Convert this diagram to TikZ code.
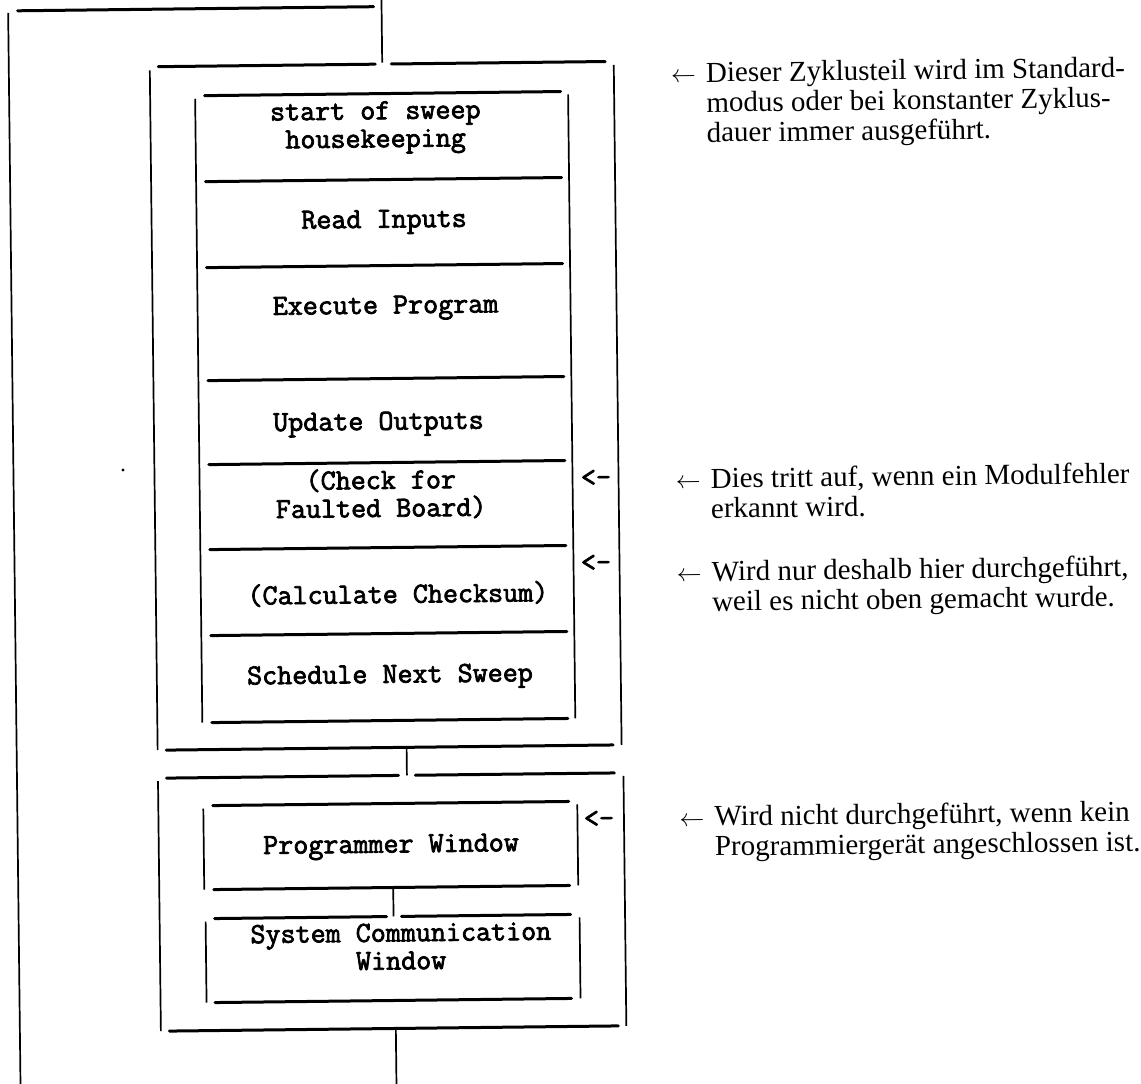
\documentclass[tikz,border=0pt]{standalone}
\usepackage{fontspec}
\setmainfont{Liberation Serif}
\setmonofont{Latin Modern Mono}[FakeBold=2.5]
\begin{document}
\begin{tikzpicture}[x=1pt,y=-1pt,
  hbar/.style={line width=3pt,line cap=round},
  vbar/.style={line width=1.7pt},
  cell/.style={inner sep=0pt,align=center,font={\ttfamily\fontsize{29.2}{28}\selectfont}},
  flag/.style={inner sep=0pt,font={\ttfamily\fontsize{29.2}{28}\selectfont}},
  note/.style={inner sep=0pt,anchor=north west,align=left,font={\fontsize{29}{30}\selectfont}},
  pointer/.style={inner sep=0pt,anchor=base west,font={\fontsize{29}{30}\selectfont}}]
\fill[white] (0,0) rectangle (1141,1084);
\useasboundingbox (0,0) rectangle (1141,1084);
\begin{scope}[rotate around={0.66:(0,0)},transform shape]

% return path from the end of the cycle back to its start
\coordinate (loopbot) at (8,1100);
\coordinate (looptop) at (8,13);
\coordinate (loopcorner) at (17.5,11);
\coordinate (loopend) at (373.5,11);
\draw[vbar] (looptop) -- (loopbot);
\draw[hbar] (loopcorner) -- (loopend);

% entry into the sweep
\coordinate (entry) at (381.5,-8);
\coordinate (sweepin) at (381.5,67);
\draw[vbar] (entry) -- (sweepin);

% frame of the sweep
\draw[hbar] (157.5,68.5) -- (374.5,68.5);
\draw[hbar] (390.5,68.5) -- (604.5,68.5);
\draw[vbar] (149,72) -- (149,752);
\draw[vbar] (613,72) -- (613,752);
\draw[hbar] (157.5,752) -- (604.5,752);

% stacked steps of the sweep
\draw[vbar] (194,101) -- (194,725);
\draw[vbar] (567,101) -- (567,725);
\foreach \yy in {98,184,270,383,467,552,638,725}
  \draw[hbar] (203.5,\yy) -- (559.5,\yy);

\node[cell] (sos) at (374,132) {start of sweep\\housekeeping};
\node[cell] (ri)  at (381.5,226.5) {Read Inputs};
\node[cell] (ep)  at (382,312.5) {Execute Program};
\node[cell] (uo)  at (373.6,428.4) {Update Outputs};
\node[cell] (cf)  at (375.3,498.4) {(Check for\\Faulted Board)};
\node[cell] (cc)  at (391,598.6) {(Calculate Checksum)};
\node[cell] (sns) at (382.2,681.5) {Schedule Next Sweep};

\node[flag] (f1) at (590.5,484.9) {<-};
\node[flag] (f2) at (589.5,569.9) {<-};

% link to the communication part
\coordinate (sweepout) at (398,752);
\coordinate (commin) at (398,780);
\draw[vbar] (sweepout) -- (commin);

% frame of the communication part
\draw[hbar] (157.5,780) -- (389.5,780);
\draw[hbar] (406.5,780) -- (605.5,780);
\draw[vbar] (149,783) -- (149,1033);
\draw[vbar] (614.5,783) -- (614.5,1033);
\draw[hbar] (157.5,1033) -- (606.5,1033);

% programmer window
\draw[hbar] (203.5,808) -- (559.5,808);
\draw[vbar] (194,811) -- (194,892);
\draw[vbar] (568,811) -- (568,892);
\draw[hbar] (203.5,892) -- (559.5,892);
\node[cell] (pw) at (381.3,851.5) {Programmer Window};
\node[flag] (f3) at (589.6,825.9) {<-};

% system communication window
\coordinate (pwout) at (383,892);
\coordinate (scwin) at (383,921);
\draw[vbar] (pwout) -- (scwin);
\draw[hbar] (204,921) -- (376,921);
\draw[hbar] (391,921) -- (560,921);
\draw[vbar] (195,924) -- (195,1005);
\draw[vbar] (569,924) -- (569,1005);
\draw[hbar] (203.5,1005) -- (560,1005);
\node[cell] (scw) at (390.1,951.1) {System Communication\\Window};

% exit of the cycle
\coordinate (commout) at (384,1033);
\coordinate (exit) at (384,1100);
\draw[vbar] (commout) -- (exit);

% stray mark
\fill (117.6,471.4) circle (1.6);

% remarks
\node[pointer] (a1) at (670,90) {$\leftarrow$};
\node[note] (n1) at (705,68) {\rule{0pt}{22pt}Dieser Zyklusteil wird im Standard-\\modus oder bei konstanter Zyklus-\\dauer immer ausgeführt.};
\node[pointer] (a2) at (670,496) {$\leftarrow$};
\node[note] (n2) at (705,474) {\rule{0pt}{22pt}Dies tritt auf, wenn ein Modulfehler\\erkannt wird.};
\node[pointer] (a3) at (670,589) {$\leftarrow$};
\node[note] (n3) at (705,567) {\rule{0pt}{22pt}Wird nur deshalb hier durchgeführt,\\weil es nicht oben gemacht wurde.};
\node[pointer] (a4) at (670,834) {$\leftarrow$};
\node[note] (n4) at (705,812) {\rule{0pt}{22pt}Wird nicht durchgeführt, wenn kein\\Programmiergerät angeschlossen ist.};
\end{scope}
\end{tikzpicture}
\end{document}
